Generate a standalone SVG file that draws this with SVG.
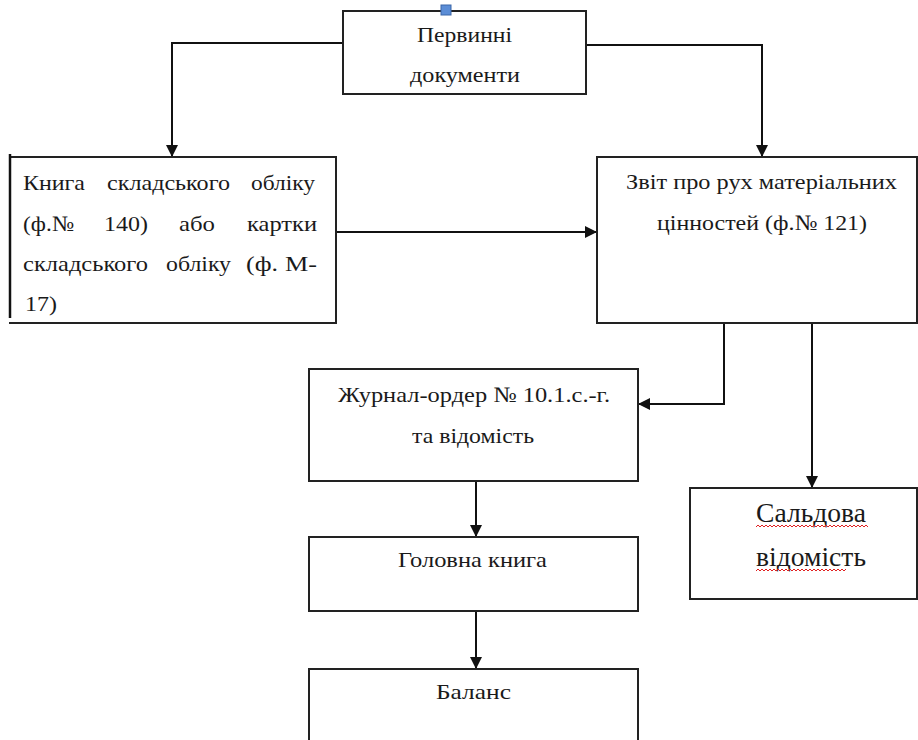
<svg xmlns="http://www.w3.org/2000/svg" width="918" height="740" viewBox="0 0 918 740">
<defs>
<style>
.box{fill:#fff;stroke:#222;stroke-width:2}
.t{font-family:"Times New Roman",serif;font-size:22px;fill:#1a1a1a}
.c{fill:none;stroke:#111;stroke-width:2}
.wave{fill:none;stroke:#e02020;stroke-width:1}
</style>
<marker id="ah" viewBox="0 0 12 12" markerWidth="12" markerHeight="12" refX="12" refY="6" orient="auto" markerUnits="userSpaceOnUse">
<path d="M0,0 L12,6 L0,12 z" fill="#111"/>
</marker>
</defs>
<rect width="918" height="740" fill="#fff"/>
<g id="connectors">
<path class="c" d="M343,43 H172 V157" marker-end="url(#ah)"/>
<path class="c" d="M586,45 H762 V157" marker-end="url(#ah)"/>
<path class="c" d="M336,232 H597" marker-end="url(#ah)"/>
<path class="c" d="M724,323 V404 H638" marker-end="url(#ah)"/>
<path class="c" d="M812,323 V488" marker-end="url(#ah)"/>
<path class="c" d="M476,481 V537" marker-end="url(#ah)"/>
<path class="c" d="M476,611 V669" marker-end="url(#ah)"/>
</g>
<g id="n-pervynni">
<rect class="box" x="343" y="11" width="243" height="83"/>
<rect x="441" y="5" width="10" height="10" fill="#5b8dd6" stroke="#3b66a8" stroke-width="1"/>
<text class="t" x="417" y="42" textLength="95" lengthAdjust="spacingAndGlyphs">Первинні</text>
<text class="t" x="410" y="82" textLength="110" lengthAdjust="spacingAndGlyphs">документи</text>
</g>
<g id="n-knyha">
<path d="M10,157 H336 V323 H9" fill="#fff" stroke="#222" stroke-width="2"/>
<line x1="10" y1="154" x2="10" y2="318" stroke="#111" stroke-width="2.5"/>
<text class="t" x="23" y="190" textLength="62" lengthAdjust="spacingAndGlyphs">Книга</text>
<text class="t" x="107" y="190" textLength="123" lengthAdjust="spacingAndGlyphs">складського</text>
<text class="t" x="251" y="190" textLength="64" lengthAdjust="spacingAndGlyphs">обліку</text>
<text class="t" x="23" y="231" textLength="51" lengthAdjust="spacingAndGlyphs">(ф.№</text>
<text class="t" x="104" y="231" textLength="44" lengthAdjust="spacingAndGlyphs">140)</text>
<text class="t" x="179" y="231" textLength="36" lengthAdjust="spacingAndGlyphs">або</text>
<text class="t" x="247" y="231" textLength="70" lengthAdjust="spacingAndGlyphs">картки</text>
<text class="t" x="23" y="271" textLength="125" lengthAdjust="spacingAndGlyphs">складського</text>
<text class="t" x="166" y="271" textLength="65" lengthAdjust="spacingAndGlyphs">обліку</text>
<text class="t" x="246" y="271" textLength="32" lengthAdjust="spacingAndGlyphs">(ф.</text>
<text class="t" x="285" y="271" textLength="32" lengthAdjust="spacingAndGlyphs">М-</text>
<text class="t" x="25" y="311" textLength="32" lengthAdjust="spacingAndGlyphs">17)</text>
</g>
<g id="n-zvit">
<rect class="box" x="597" y="157" width="320" height="166"/>
<text class="t" x="626" y="189" textLength="271" lengthAdjust="spacingAndGlyphs">Звіт про рух матеріальних</text>
<text class="t" x="657" y="230" textLength="210" lengthAdjust="spacingAndGlyphs">цінностей (ф.№ 121)</text>
</g>
<g id="n-zhurnal">
<rect class="box" x="309" y="369" width="329" height="112"/>
<text class="t" x="338" y="402" textLength="272" lengthAdjust="spacingAndGlyphs">Журнал-ордер № 10.1.с.-г.</text>
<text class="t" x="412" y="443" textLength="122" lengthAdjust="spacingAndGlyphs">та відомість</text>
</g>
<g id="n-saldova">
<rect class="box" x="690" y="488" width="227" height="111"/>
<text class="t" x="756" y="522" style="font-size:27px" textLength="110" lengthAdjust="spacingAndGlyphs">Сальдова</text>
<text class="t" x="756" y="566" style="font-size:27px" textLength="110" lengthAdjust="spacingAndGlyphs">відомість</text>
<path class="wave" d="M756,527 l2,-2 l2,2 l2,-2 l2,2 l2,-2 l2,2 l2,-2 l2,2 l2,-2 l2,2 l2,-2 l2,2 l2,-2 l2,2 l2,-2 l2,2 l2,-2 l2,2 l2,-2 l2,2 l2,-2 l2,2 l2,-2 l2,2 l2,-2 l2,2 l2,-2 l2,2 l2,-2 l2,2 l2,-2 l2,2 l2,-2 l2,2 l2,-2 l2,2 l2,-2 l2,2 l2,-2 l2,2 l2,-2 l2,2 l2,-2 l2,2 l2,-2 l2,2 l2,-2 l2,2 l2,-2 l2,2 l2,-2 l2,2 l2,-2 l2,2 l2,-2 l2,2"/>
<path class="wave" d="M756,571 l2,-2 l2,2 l2,-2 l2,2 l2,-2 l2,2 l2,-2 l2,2 l2,-2 l2,2 l2,-2 l2,2 l2,-2 l2,2 l2,-2 l2,2 l2,-2 l2,2 l2,-2 l2,2 l2,-2 l2,2 l2,-2 l2,2 l2,-2 l2,2 l2,-2 l2,2 l2,-2 l2,2 l2,-2 l2,2 l2,-2 l2,2 l2,-2 l2,2 l2,-2 l2,2 l2,-2 l2,2 l2,-2 l2,2 l2,-2 l2,2 l2,-2"/>
</g>
<g id="n-holovna">
<rect class="box" x="309" y="537" width="329" height="74"/>
<text class="t" x="398" y="567" textLength="149" lengthAdjust="spacingAndGlyphs">Головна книга</text>
</g>
<g id="n-balans">
<rect class="box" x="309" y="669" width="329" height="80"/>
<text class="t" x="436" y="699" textLength="75" lengthAdjust="spacingAndGlyphs">Баланс</text>
</g>
</svg>
